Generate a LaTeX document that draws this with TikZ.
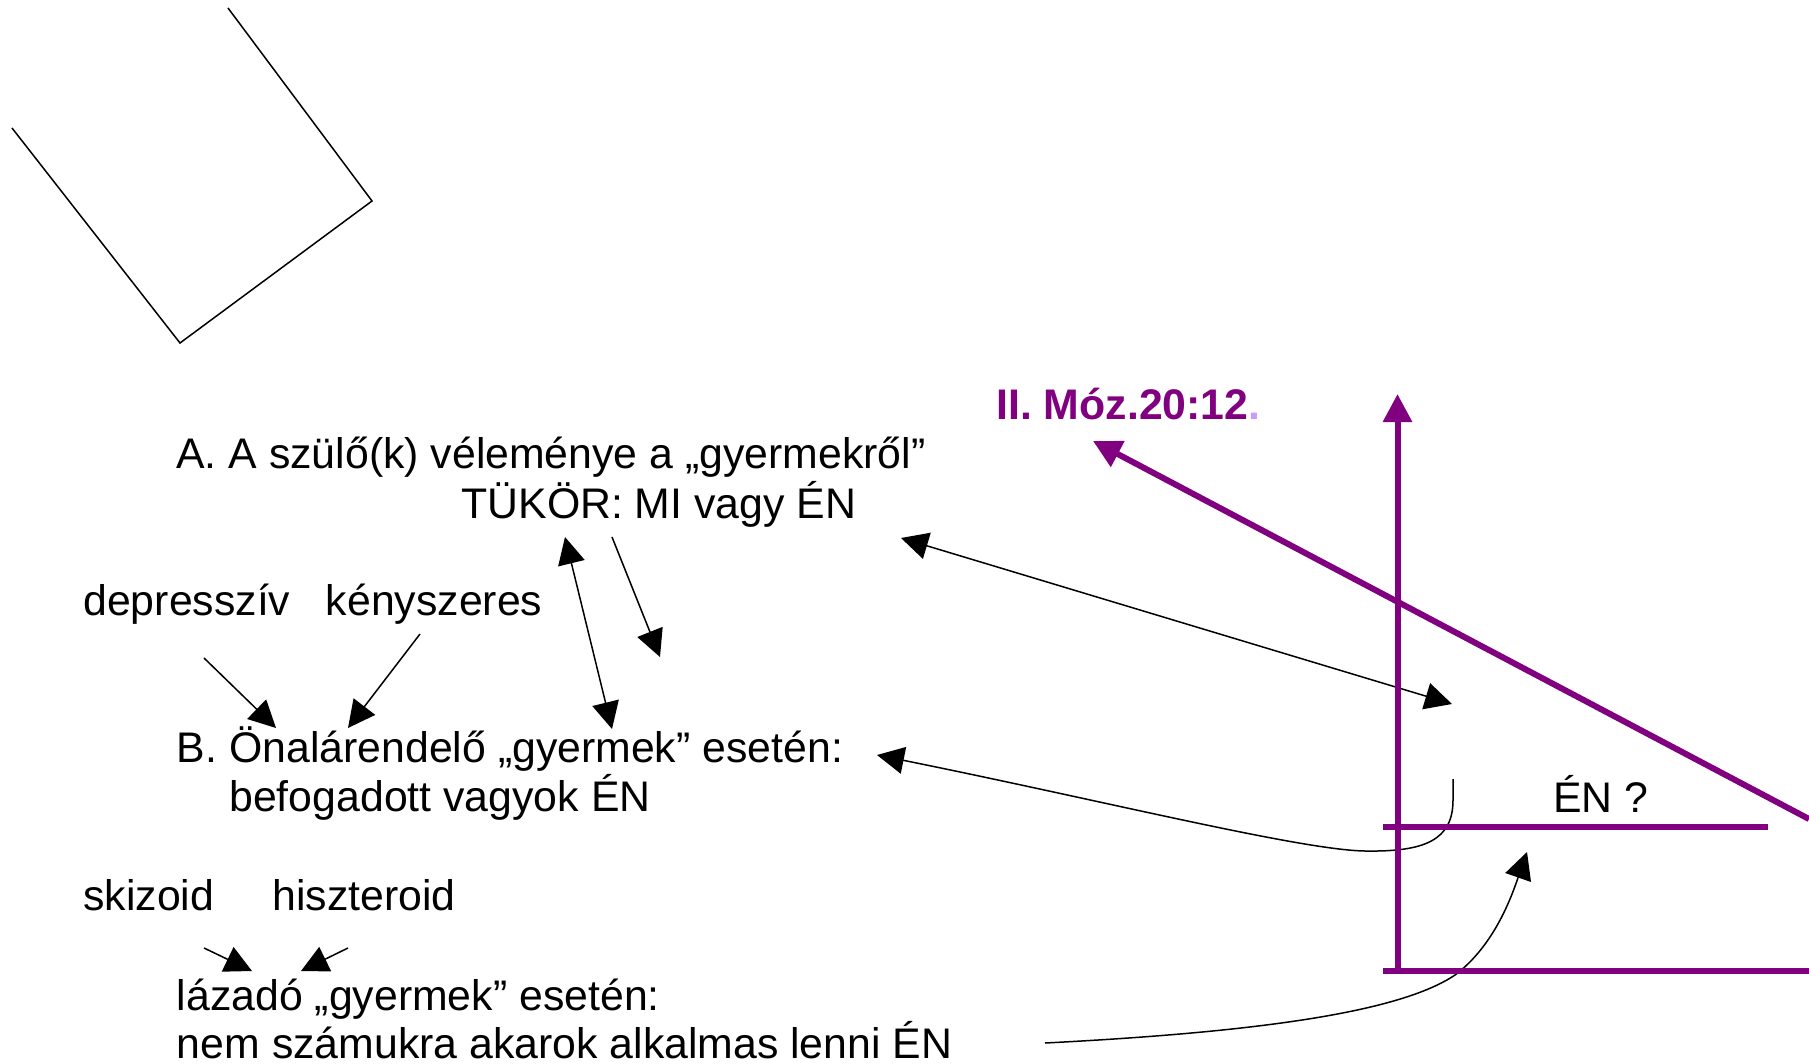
\documentclass[tikz,border=0pt]{standalone}
\usepackage{fontspec}
\setmainfont{Liberation Sans}
\usetikzlibrary{arrows.meta}
\definecolor{lila}{HTML}{800080}
\definecolor{halvanylila}{HTML}{CC99FF}
\tikzset{
  szoveg/.style={anchor=base west, inner sep=0pt, font=\fontsize{21.4}{25}\selectfont},
  nyil/.style={line width=0.75pt, -{Triangle[length=13.5pt,width=13.5pt]}},
  ketnyil/.style={line width=0.75pt, {Triangle[length=13.5pt,width=13.5pt]}-{Triangle[length=13.5pt,width=13.5pt]}},
  tengely/.style={lila, line width=3pt},
}
\begin{document}
\begin{tikzpicture}[x=0.5pt, y=-0.5pt]
        \useasboundingbox (0,0) rectangle (1809,1064);
        % a sarok
        \draw[line width=0.75pt] (12,128) -- (180,343) -- (372,201) -- (228,8);
        % szovegek
        \node[szoveg] (szuloA) at (176,468.5) {A. A szülő(k) véleménye a „gyermekről”};
        \node[szoveg] (tukor) at (461,518.5) {TÜKÖR: MI vagy ÉN};
        \node[szoveg] (depr) at (83,615) {depresszív};
        \node[szoveg] (keny) at (325.5,615) {kényszeres};
        \node[szoveg] (onalB) at (176.5,762) {B. Önalárendelő „gyermek” esetén:};
        \node[szoveg] (befog) at (229,811) {befogadott vagyok ÉN};
        \node[szoveg] (skiz) at (83,910) {skizoid};
        \node[szoveg] (hiszt) at (272,910) {hiszteroid};
        \node[szoveg] (lazado) at (176.5,1010) {lázadó „gyermek” esetén:};
        \node[szoveg] (nem) at (176.5,1058) {nem számukra akarok alkalmas lenni ÉN};
        \node[szoveg, lila, font=\fontsize{21.4}{25}\selectfont\bfseries] (moz) at (996,419.3) {II. Móz.20:12\textcolor{halvanylila}{.}};
        \node[szoveg] (enk) at (1553,812.7) {ÉN ?};
        % a nyilak vegpontjai
        \coordinate (d1) at (204,658);   \coordinate (d2) at (276,728);
        \coordinate (k1) at (420,634);   \coordinate (k2) at (348,728);
        \coordinate (t1) at (565,537);   \coordinate (t2) at (612,729);
        \coordinate (t3) at (612,537);   \coordinate (t4) at (660,657);
        \coordinate (e1) at (901,538);   \coordinate (e2) at (1452,704);
        \coordinate (h1) at (1453,779);  \coordinate (h2) at (877,755);
        \coordinate (s1) at (204,948);   \coordinate (s2) at (252,971);
        \coordinate (z1) at (348,948);   \coordinate (z2) at (301,971);
        \coordinate (n1) at (1045,1043); \coordinate (n2) at (1527,852);
        \draw[nyil] (d1) -- (d2);
        \draw[nyil] (k1) -- (k2);
        \draw[ketnyil] (t1) -- (t2);
        \draw[nyil] (t3) -- (t4);
        \draw[ketnyil] (e1) -- (e2);
        \draw[nyil] (h1) -- (1453,800) .. controls (1453,840) and (1425,852) .. (1365,851)
                .. controls (1300,850) and (1100,800) .. (h2);
        \draw[nyil] (s1) -- (s2);
        \draw[nyil] (z1) -- (z2);
        \draw[nyil] (n1) .. controls (1260,1032) and (1400,1012) .. (1455,975)
                .. controls (1495,945) and (1512,895) .. (n2);
        % lila tengelyek
        \coordinate (fo) at (1397.5,971);  \coordinate (fo2) at (1397.5,394);
        \coordinate (al1) at (1383,971);   \coordinate (al2) at (1809,971);
        \coordinate (ko1) at (1383,827);   \coordinate (ko2) at (1768,827);
        \coordinate (fe1) at (1809,819);   \coordinate (fe2) at (1093,441);
        \draw[tengely, -{Triangle[length=14pt,width=14pt]}] (fo) -- (fo2);
        \draw[tengely] (al1) -- (al2);
        \draw[tengely] (ko1) -- (ko2);
        \draw[tengely, -{Triangle[length=14pt,width=14pt]}] (fe1) -- (fe2);
\end{tikzpicture}
\end{document}
